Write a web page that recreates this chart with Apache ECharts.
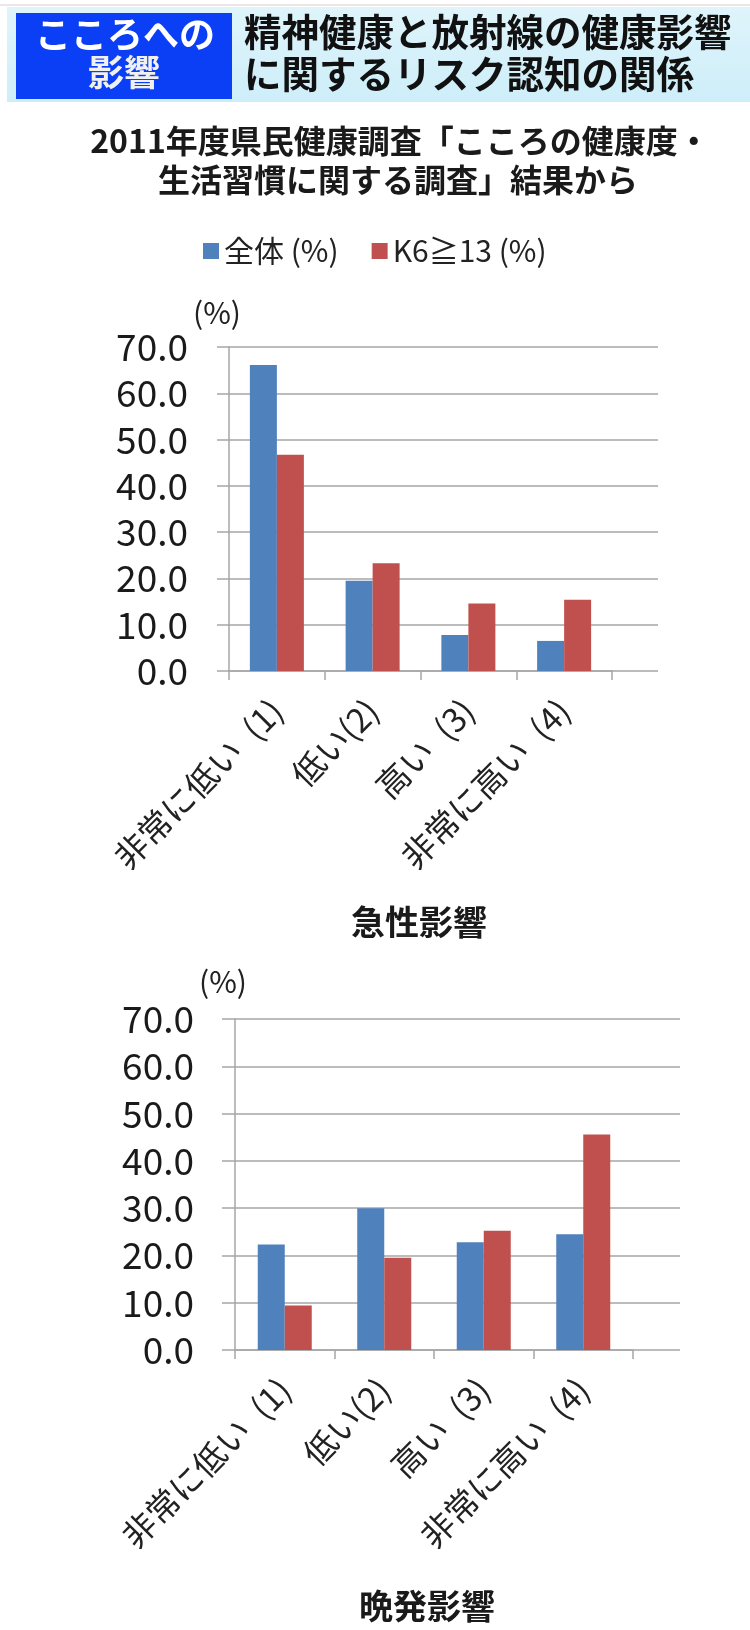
<!DOCTYPE html>
<html>
<head>
<meta charset="utf-8">
<script src="https://cdn.jsdelivr.net/npm/echarts@6/dist/echarts.min.js"></script>
<style>
html,body{margin:0;padding:0;background:#fff;}
#c{width:750px;height:1630px;}
</style>
</head>
<body>
<div id="c"></div>
<script>
const categories = ['非常に低い\u2002(1)', '低い(2)', '高い\u2002(3)', '非常に高い\u2002(4)'];
const seriesNames = ['全体 (%)', 'K6≧13 (%)'];
const acuteAll = [66.1, 19.5, 7.8, 6.5];
const acuteK6 = [46.7, 23.3, 14.6, 15.4];
const lateAll = [22.3, 30.0, 22.8, 24.5];
const lateK6 = [9.4, 19.5, 25.2, 45.6];
const yTicks = [0, 10, 20, 30, 40, 50, 60, 70];

const FONT = '"Noto Sans CJK JP", "Noto Sans", sans-serif';
const BLUE = '#4f81bd', RED = '#c0504d', GRID = '#a6a6a6';

const chart = echarts.init(document.getElementById('c'), null, {renderer: 'canvas'});

function barGrid(left, top, width, height) { return {left, top, width, height, containLabel: false}; }

const yMin = yTicks[0], yMax = yTicks[yTicks.length - 1], yStep = yTicks[1] - yTicks[0];

function valueAxis(gridIndex, showLabels) {
  return {
    type: 'value', gridIndex, min: yMin, max: yMax, interval: yStep,
    axisLine: {show: showLabels, lineStyle: {color: GRID, width: 1.5}},
    axisTick: {show: false},
    splitLine: {show: !showLabels, lineStyle: {color: GRID, width: 1.5}},
    axisLabel: showLabels ? {
      show: true, margin: 41, fontSize: 37, color: '#1a1a1a', fontFamily: FONT,
      formatter: v => v.toFixed(1)
    } : {show: false}
  };
}

function catAxis(gridIndex, data, show) {
  return {
    type: 'category', gridIndex, data, boundaryGap: true,
    show,
    axisLine: {show: true, lineStyle: {color: GRID, width: 1.5}},
    axisTick: {show: true, length: 9, alignWithLabel: false, lineStyle: {color: GRID, width: 1.5}},
    axisLabel: {show: true, rotate: 45, margin: 34, fontSize: 33, color: '#222', fontFamily: FONT, interval: 0},
    splitLine: {show: false}
  };
}

function bars(name, data, color, axisIndex) {
  return {
    name, type: 'bar', data, xAxisIndex: axisIndex, yAxisIndex: axisIndex,
    barWidth: 27, barGap: '0%',
    itemStyle: {color}, emphasis: {disabled: true}, z: 3
  };
}

const option = {
  backgroundColor: '#ffffff',
  animation: false,
  textStyle: {fontFamily: FONT},
  legend: {
    data: seriesNames, top: 231, left: 198,
    itemWidth: 16, itemHeight: 16, icon: 'rect', itemGap: 33,
    textStyle: {fontSize: 30, color: '#222', fontFamily: FONT}
  },
  grid: [
    barGrid(229, 347, 383, 324),
    barGrid(217, 347, 441, 324),
    barGrid(235, 1019, 398, 331),
    barGrid(222, 1019, 458, 331)
  ],
  xAxis: [
    catAxis(0, categories, true),
    {type: 'category', gridIndex: 1, data: [''], show: false},
    catAxis(2, categories, true),
    {type: 'category', gridIndex: 3, data: [''], show: false}
  ],
  yAxis: [
    valueAxis(0, true),
    valueAxis(1, false),
    valueAxis(2, true),
    valueAxis(3, false)
  ],
  series: [
    bars(seriesNames[0], acuteAll, BLUE, 0),
    bars(seriesNames[1], acuteK6, RED, 0),
    bars(seriesNames[0], lateAll, BLUE, 2),
    bars(seriesNames[1], lateK6, RED, 2)
  ],
  graphic: [
    {type: 'rect', shape: {x: 0, y: 4, width: 750, height: 2}, style: {fill: '#ece6e6'}, silent: true},
    {type: 'rect', shape: {x: 7, y: 7, width: 743, height: 95},
     style: {fill: new echarts.graphic.LinearGradient(0, 0, 0, 1, [
       {offset: 0, color: '#dff4fb'}, {offset: 1, color: '#cdeef9'}])}, silent: true},
    {type: 'rect', shape: {x: 16, y: 13, width: 216, height: 86}, style: {fill: '#0a3ff5'}, silent: true},
    {type: 'text', x: 125, y: 34, style: {text: 'こころへの', fill: '#ffffff', font: 'bold 36px ' + FONT, textAlign: 'center', textVerticalAlign: 'middle'}},
    {type: 'text', x: 124, y: 72, style: {text: '影響', fill: '#f0f0f0', font: 'bold 36px ' + FONT, textAlign: 'center', textVerticalAlign: 'middle'}},
    {type: 'text', x: 244, y: 32, style: {text: '精神健康と放射線の健康影響', fill: '#111', font: 'bold 37.5px ' + FONT, textAlign: 'left', textVerticalAlign: 'middle'}},
    {type: 'text', x: 244, y: 74, style: {text: 'に関するリスク認知の関係', fill: '#111', font: 'bold 37.5px ' + FONT, textAlign: 'left', textVerticalAlign: 'middle'}},
    {type: 'text', x: 400, y: 141, style: {text: '2011年度県民健康調査「こころの健康度・', fill: '#1a1a1a', font: 'bold 32px ' + FONT, textAlign: 'center', textVerticalAlign: 'middle'}},
    {type: 'text', x: 398, y: 180, style: {text: '生活習慣に関する調査」結果から', fill: '#1a1a1a', font: 'bold 32px ' + FONT, textAlign: 'center', textVerticalAlign: 'middle'}},
    {type: 'text', x: 217, y: 313, style: {text: '(%)', fill: '#222', font: '30px ' + FONT, textAlign: 'center', textVerticalAlign: 'middle'}},
    {type: 'text', x: 223, y: 982, style: {text: '(%)', fill: '#222', font: '30px ' + FONT, textAlign: 'center', textVerticalAlign: 'middle'}},
    {type: 'text', x: 419, y: 922, style: {text: '急性影響', fill: '#1a1a1a', font: 'bold 34px ' + FONT, textAlign: 'center', textVerticalAlign: 'middle'}},
    {type: 'text', x: 427, y: 1606, style: {text: '晩発影響', fill: '#1a1a1a', font: 'bold 34px ' + FONT, textAlign: 'center', textVerticalAlign: 'middle'}}
  ]
};
chart.setOption(option);
</script>
</body>
</html>
